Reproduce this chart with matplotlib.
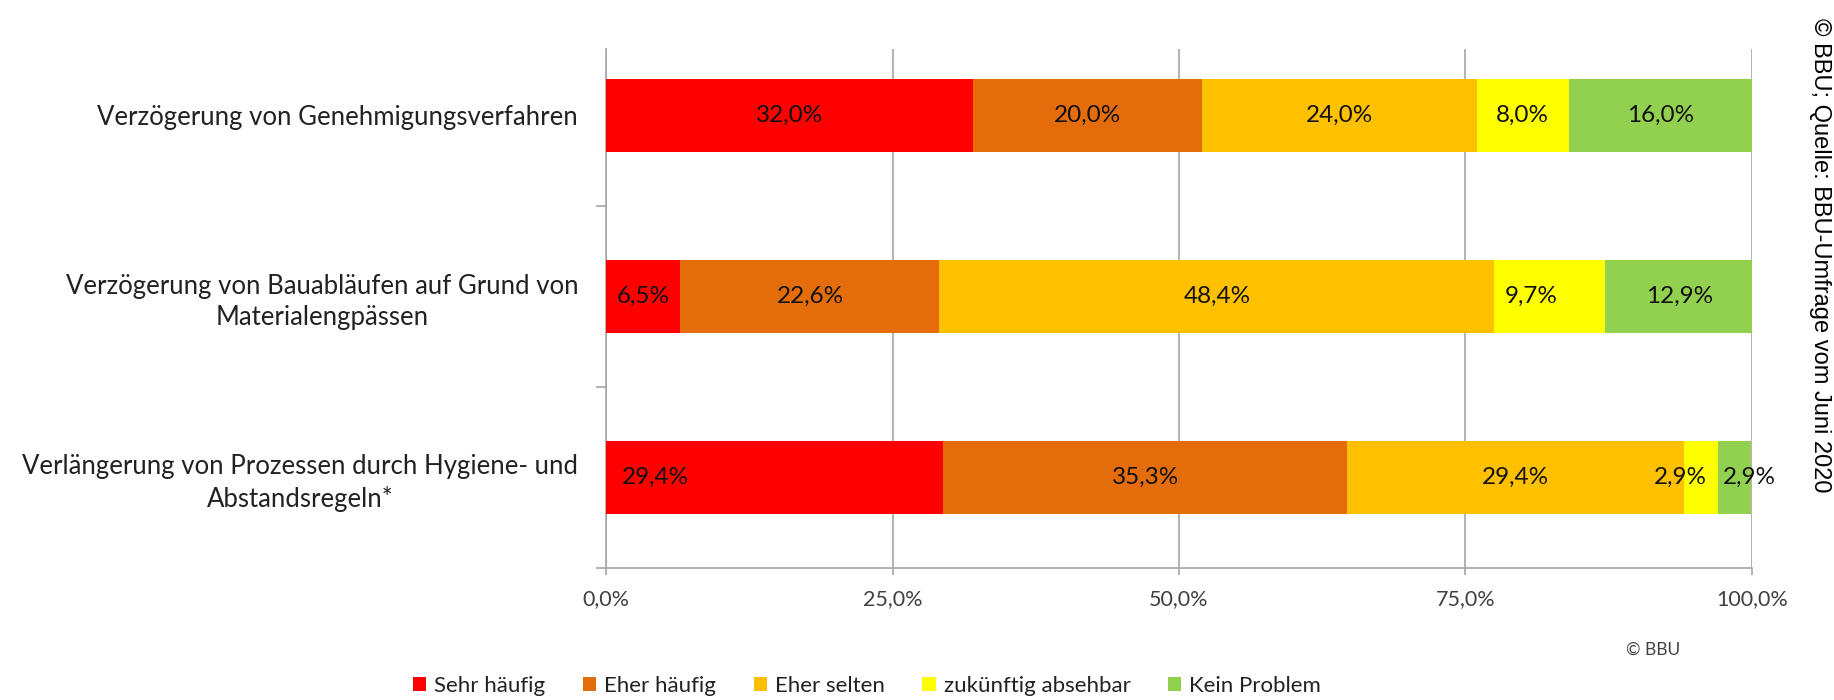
import numpy as np
import matplotlib.pyplot as plt
from matplotlib.patches import Patch

# ── Data ───────────────────────────────────────────────────────────────────────
categories = [
    'Verzögerung von Genehmigungsverfahren',
    'Verzögerung von Bauabläufen auf Grund von\nMaterialengpässen',
    'Verlängerung von Prozessen durch Hygiene- und\nAbstandsregeln*',
]
series_names = ['Sehr häufig', 'Eher häufig', 'Eher selten',
                'zukünftig absehbar', 'Kein Problem']
sehr_haeufig = [32.0, 6.5, 29.4]
eher_haeufig = [20.0, 22.6, 35.3]
eher_selten = [24.0, 48.4, 29.4]
zukuenftig = [8.0, 9.7, 2.9]
kein_problem = [16.0, 12.9, 2.9]
x_ticks = [0, 25, 50, 75, 100]

colors = ['#FF0000', '#E46C0A', '#FFC000', '#FFFF00', '#92D050']

# manual label nudges (in %-points), as in the original chart
label_shift = {(2, 0): -10.4, (1, 3): -1.6, (2, 3): -1.8, (2, 4): 1.3}

plt.rcParams['font.family'] = ['Lato', 'DejaVu Sans']

# ── Layout ─────────────────────────────────────────────────────────────────────
W, H = 1834, 700
fig = plt.figure(figsize=(W / 100, H / 100), dpi=100)
fig.patch.set_facecolor('white')
ax = fig.add_axes([606 / W, 1 - 568 / H, 1146 / W, 519 / H])

grid_col = '#A6A6A6'
series = [sehr_haeufig, eher_haeufig, eher_selten, zukuenftig, kein_problem]
y = np.arange(len(categories))
left = np.zeros(len(categories))
for s_idx, (vals, col) in enumerate(zip(series, colors)):
    vals = np.array(vals)
    ax.barh(y, vals / 100, left=left / 100, height=0.403, color=col,
            edgecolor='none', zorder=3)
    for c_idx in range(len(categories)):
        xc = left[c_idx] + vals[c_idx] / 2 + label_shift.get((c_idx, s_idx), 0)
        txt = f'{vals[c_idx]:.1f}'.replace('.', ',') + '%'
        ax.text(xc / 100, y[c_idx], txt, ha='center', va='center',
                fontsize=17.5, color='#111111', zorder=5)
    left += vals

# ── Axes formatting ───────────────────────────────────────────────────────────
ax.set_xlim(0, 1)
ax.set_ylim(2.5, -0.367)
ax.set_xticks([t / 100 for t in x_ticks])
ax.set_xticklabels([f'{t:.1f}'.replace('.', ',') + '%' for t in x_ticks],
                   fontsize=15.5, color='#404040')
ax.set_yticks(y)
ax.set_yticklabels(categories, fontsize=18.5, color='#222222',
                   multialignment='center', linespacing=1.3)
ax.set_yticks([0.5, 1.5, 2.5], minor=True)
ax.tick_params(axis='y', which='major', length=0, pad=20)
ax.tick_params(axis='y', which='minor', length=7, width=1.2, color=grid_col)
ax.tick_params(axis='x', length=5, width=1.2, color=grid_col, pad=10)

ax.grid(True, axis='x', color=grid_col, linewidth=1.2, zorder=0)
ax.set_axisbelow(True)
for side in ['top', 'right']:
    ax.spines[side].set_visible(False)
for side in ['left', 'bottom']:
    ax.spines[side].set_color(grid_col)
    ax.spines[side].set_linewidth(1.2)

# ── Legend & notes ────────────────────────────────────────────────────────────
handles = [Patch(facecolor=c, edgecolor='none', label=n)
           for c, n in zip(colors, series_names)]
fig.legend(handles=handles, loc='center', bbox_to_anchor=(867 / W, 1 - 686 / H),
           ncol=5, frameon=False, fontsize=16, handlelength=0.6,
           handleheight=0.6, handletextpad=0.35, columnspacing=1.7,
           labelcolor='#222222')

fig.text(1653 / W, 1 - 650 / H, '© BBU', fontsize=12.5, color='#404040',
         ha='center', va='center')
fig.text(1820 / W, 1 - 18 / H, '© BBU; Quelle: BBU-Umfrage vom Juni 2020',
         rotation=270, fontsize=17, family='Liberation Sans', color='#000000',
         ha='center', va='top')

plt.savefig('out.png', dpi=100, facecolor='white')
